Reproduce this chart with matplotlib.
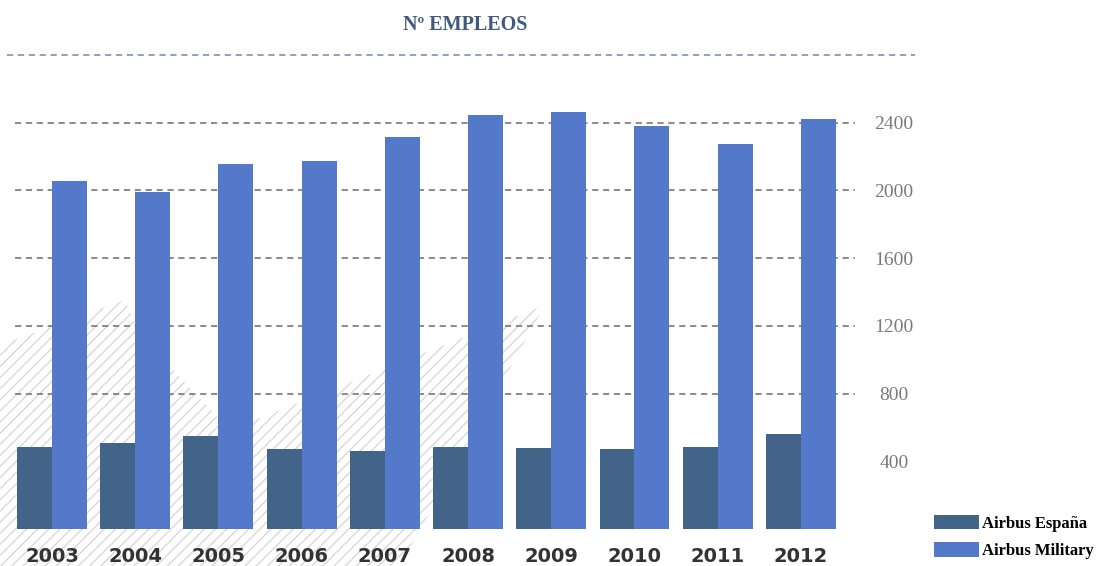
import matplotlib
matplotlib.use('Agg')
import matplotlib.pyplot as plt
from matplotlib.patches import Polygon
import numpy as np

W, H = 1108, 566

years = ['2003', '2004', '2005', '2006', '2007', '2008', '2009', '2010', '2011', '2012']
espana = [484, 508, 547, 471, 463, 484, 478, 471, 486, 561]
military = [2053, 1988, 2159, 2176, 2318, 2447, 2465, 2382, 2276, 2424]
grid_vals = [800, 1200, 1600, 2000, 2400]
tick_vals = [400, 800, 1200, 1600, 2000, 2400]
tick_labels = ['400', '800', '1200', '1600', '2000', '2400']

C_ESP = '#416488'
C_MIL = '#5479cb'

plt.rcParams['hatch.linewidth'] = 1.0
plt.rcParams['hatch.color'] = '#d8d8d8'

fig = plt.figure(figsize=(W / 100, H / 100), dpi=100)
fig.patch.set_facecolor('white')

# decorative hatched shape in the background (pixel coords, top-left origin)
shape_px = [(0, 566), (0, 345), (125, 300), (140, 335), (230, 430),
            (545, 305), (400, 566)]
shape = Polygon([(x / W, 1 - y / H) for x, y in shape_px], closed=True,
                transform=fig.transFigure, facecolor='none', edgecolor='#d8d8d8',
                hatch='///', linewidth=0, zorder=-5)
fig.patches.append(shape)

# axes placed so that 0 sits at y=529 px and 2800 at y=55 px
left, right = 15, 855
ax = fig.add_axes([left / W, (H - 529) / H, (right - left) / W, (529 - 55) / H])
ax.set_facecolor('none')

x = np.arange(len(years))
bw = 0.42
ax.bar(x - bw / 2, espana, bw, color=C_ESP, label='Airbus España', zorder=3)
ax.bar(x + bw / 2, military, bw, color=C_MIL, label='Airbus Military', zorder=3)

for v in grid_vals:
    ax.axhline(v, color='#8a8a8a', lw=1.4, ls=(0, (3.2, 2.4)), zorder=1)
ax.axhline(2800, xmin=-0.009, xmax=1.071, color='#8ea2ba', lw=1.4,
           ls=(0, (3.2, 2.4)), clip_on=False, zorder=1)

ax.set_xlim(-0.445, 9.65)
ax.set_ylim(0, 2800)

ax.set_xticks(x)
ax.set_xticklabels(years, fontsize=14, fontweight='bold', color='#333333')
ax.yaxis.tick_right()
ax.set_yticks(tick_vals)
ax.set_yticklabels(tick_labels, fontsize=14, color='#7a7a7a',
                   family='Liberation Serif')
for lab in ax.get_yticklabels():
    lab.set_horizontalalignment('center')
ax.tick_params(axis='both', length=0)
ax.tick_params(axis='y', pad=28)
ax.tick_params(axis='x', pad=13)
for s in ax.spines.values():
    s.set_visible(False)

fig.text(465 / W, 1 - 25 / H, 'Nº EMPLEOS', ha='center', va='center',
         fontsize=14.5, fontweight='bold', color='#3f5a7e', family='Liberation Serif')

fig.legend(loc='lower left', bbox_to_anchor=(922 / W, -0.008), frameon=False,
           prop={'family': 'Liberation Serif', 'weight': 'bold', 'size': 12},
           handlelength=2.7, handleheight=1.0, handletextpad=0.2,
           labelspacing=0.6, borderaxespad=0.3)

fig.savefig('out.png', dpi=100, facecolor='white')
